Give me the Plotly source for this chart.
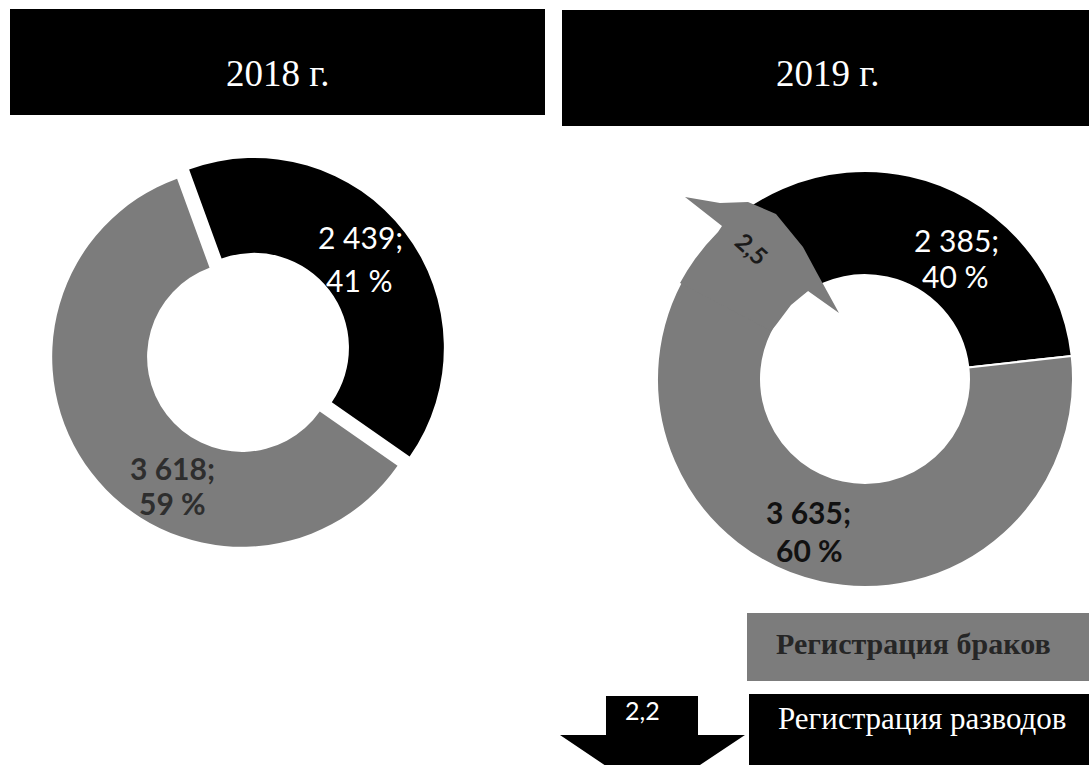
import plotly.graph_objects as go

# ---- data ----
categories = ["Регистрация разводов", "Регистрация браков"]
values_2018 = [2439, 3618]
values_2019 = [2385, 3635]
labels_2018 = ["2 439;", "41 %", "3 618;", "59 %"]
labels_2019 = ["2 385;", "40 %", "3 635;", "60 %"]
years = ["2018 г.", "2019 г."]
arrow_up_value = "2,5"
arrow_down_value = "2,2"

W, H = 1089, 765
GRAY = "#7c7c7c"
BLACK = "#000000"


def px(x):
    return x / W


def py(y):
    return 1 - y / H


fig = go.Figure()

fig.add_trace(go.Pie(
    labels=categories, values=values_2018, hole=0.5, sort=False,
    direction="clockwise", rotation=-20, pull=[0.08, 0],
    marker=dict(colors=[BLACK, GRAY], line=dict(color="white", width=0)),
    textinfo="none", hoverinfo="label+value+percent", showlegend=False,
    domain=dict(x=[px(37), px(447)], y=[py(562), py(152)]),
))
fig.add_trace(go.Pie(
    labels=categories, values=values_2019, hole=0.5, sort=False,
    direction="clockwise", rotation=-59,
    marker=dict(colors=[BLACK, GRAY], line=dict(color="white", width=2)),
    textinfo="none", hoverinfo="label+value+percent", showlegend=False,
    domain=dict(x=[px(657), px(1073)], y=[py(587), py(171)]),
))

shapes = []
# title boxes
shapes.append(dict(type="rect", xref="paper", yref="paper", x0=px(10), x1=px(545),
                   y0=py(115), y1=py(9), fillcolor=BLACK, line=dict(width=0), layer="below"))
shapes.append(dict(type="rect", xref="paper", yref="paper", x0=px(562), x1=px(1089),
                   y0=py(126), y1=py(10), fillcolor=BLACK, line=dict(width=0), layer="below"))
# legend boxes
shapes.append(dict(type="rect", xref="paper", yref="paper", x0=px(747), x1=px(1089),
                   y0=py(681), y1=py(613), fillcolor=GRAY, line=dict(width=0)))
shapes.append(dict(type="rect", xref="paper", yref="paper", x0=px(749), x1=px(1089),
                   y0=py(765), y1=py(694), fillcolor=BLACK, line=dict(width=0)))


def path(points):
    return "M " + " L ".join(f"{px(x):.5f},{py(y):.5f}" for x, y in points) + " Z"


# down arrow
down_pts = [(606, 696), (698, 696), (698, 735), (745, 735), (652, 797), (560, 735), (606, 735)]
shapes.append(dict(type="path", xref="paper", yref="paper", path=path(down_pts),
                   fillcolor=BLACK, line=dict(width=0)))
# curved gray arrow (2019)
up_pts = [(685, 197), (720, 203), (748, 202), (776, 214), (803, 247), (817, 273),
          (839, 313), (808, 291), (791, 305), (776, 325), (771, 331),
          (680, 283), (687, 271), (695, 259), (706, 245), (718, 232), (722, 226)]
shapes.append(dict(type="path", xref="paper", yref="paper", path=path(up_pts),
                   fillcolor=GRAY, line=dict(width=0)))

ann = []


def text(x, y, s, size, color, family="Lato", bold=False, angle=0):
    ann.append(dict(x=px(x), y=py(y), xref="paper", yref="paper", text=s, showarrow=False,
                    xanchor="center", yanchor="middle", textangle=angle,
                    font=dict(family=family, size=size, color=color,
                              weight="bold" if bold else "normal")))


text(278, 73, years[0], 37, "white", family="Liberation Serif")
text(828, 73, years[1], 37, "white", family="Liberation Serif")

text(360, 237, labels_2018[0], 30, "white")
text(359, 280, labels_2018[1], 30, "white")
text(172, 468, labels_2018[2], 30, "#2e2e2e", bold=True)
text(172, 503, labels_2018[3], 30, "#2e2e2e", bold=True)
text(956, 240, labels_2019[0], 30, "white")
text(955, 276, labels_2019[1], 30, "white")
text(808, 512, labels_2019[2], 30, "#111111", bold=True)
text(809, 550, labels_2019[3], 30, "#111111", bold=True)

text(752, 249, arrow_up_value, 24, "#1a1a1a", bold=True, angle=42)
text(642, 710, arrow_down_value, 25, "white")
text(913, 643, categories[1], 30, "#262626", family="Liberation Serif", bold=True)
text(922, 718, categories[0], 31, "white", family="Liberation Serif")

fig.update_layout(
    width=W, height=H, margin=dict(l=0, r=0, t=0, b=0),
    paper_bgcolor="white", plot_bgcolor="white",
    shapes=shapes, annotations=ann, showlegend=False,
)
fig.write_html(
    "out.html",
    config={"displayModeBar": False},
    post_script="document.body.style.margin='0';document.body.style.padding='0';"
                "document.body.style.overflow='hidden';",
)
